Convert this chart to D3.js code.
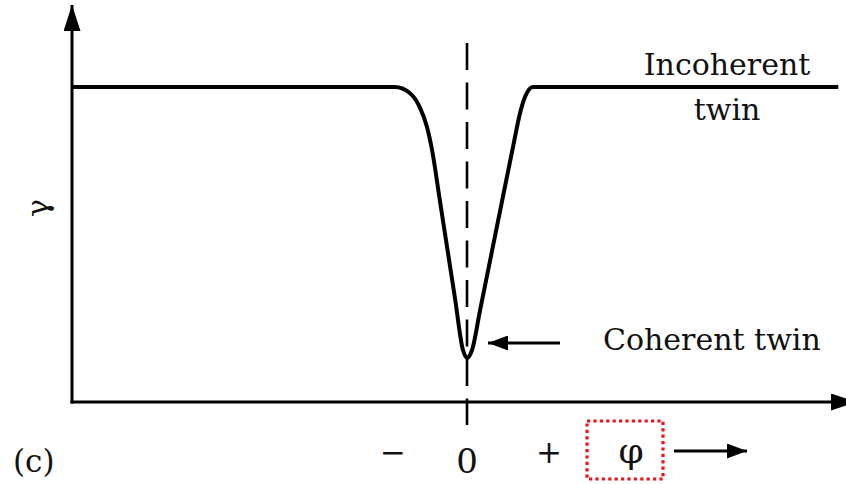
<!DOCTYPE html>
<html>
<head>
<meta charset="utf-8">
<script src="https://cdn.jsdelivr.net/npm/d3@7"></script>
<style>
  body { margin: 0; background: #fff; }
  text { font-family: "DejaVu Serif", "Liberation Serif", serif; fill: #111; }
</style>
</head>
<body>
<svg id="chart" width="846" height="484"></svg>
<script>
// twin boundary energy vs misorientation (phi)
const phiValues   = [-4, -0.73, -0.58, -0.48, -0.405, -0.354, -0.273, -0.122, -0.041, 0, 0.051, 0.132, 0.334, 0.466, 0.537, 0.587, 0.668, 3.76];
const gammaValues = [1, 1, 0.981, 0.937, 0.873, 0.80, 0.636, 0.33, 0.165, 0.14, 0.165, 0.291, 0.605, 0.81, 0.917, 0.968, 1, 1];

// labels under the phi axis
const tickPhi    = [-0.75, 0, 0.83];
const tickLabels = ["\u2212", "0", "+"];

const svg = d3.select("#chart");

const x = d3.scaleLinear().domain([-4, 4]).range([72, 862]);
const y = d3.scaleLinear().domain([0, 1]).range([402, 87]);

// arrow heads
const defs = svg.append("defs");
function arrowHead(id, len, half) {
  defs.append("marker")
    .attr("id", id)
    .attr("markerUnits", "userSpaceOnUse")
    .attr("viewBox", `0 ${-half} ${len} ${half * 2}`)
    .attr("refX", len).attr("refY", 0)
    .attr("markerWidth", len).attr("markerHeight", half * 2)
    .attr("orient", "auto")
    .append("path")
    .attr("d", `M0,${-half}L${len},0L0,${half}Z`)
    .attr("fill", "#000");
}
arrowHead("axisHead", 26, 8.5);
arrowHead("smallHead", 20, 7.5);

// axes
svg.append("line")
  .attr("x1", x(-4)).attr("y1", y(0) + 1.5)
  .attr("x2", x(-4)).attr("y2", 5)
  .attr("stroke", "#000").attr("stroke-width", 3)
  .attr("marker-end", "url(#axisHead)");
svg.append("line")
  .attr("x1", x(-4) - 1.5).attr("y1", y(0))
  .attr("x2", 857).attr("y2", y(0))
  .attr("stroke", "#000").attr("stroke-width", 3)
  .attr("marker-end", "url(#axisHead)");

// dashed centre line at phi = 0
svg.append("line")
  .attr("x1", x(0)).attr("y1", 43)
  .attr("x2", x(0)).attr("y2", y(0))
  .attr("stroke", "#000").attr("stroke-width", 2.6)
  .attr("stroke-dasharray", "27 12.5");
svg.append("line")
  .attr("x1", x(0)).attr("y1", y(0))
  .attr("x2", x(0)).attr("y2", 425)
  .attr("stroke", "#000").attr("stroke-width", 2.6);

// the curve
const pts = phiValues.map((p, i) => [p, gammaValues[i]]);
const line = d3.line()
  .x(d => x(d[0]))
  .y(d => y(d[1]))
  .curve(d3.curveMonotoneX);
svg.append("path")
  .datum(pts)
  .attr("d", line)
  .attr("fill", "none")
  .attr("stroke", "#000")
  .attr("stroke-width", 4)
  .attr("stroke-linejoin", "round");

// y label (gamma, turned)
svg.append("text")
  .attr("transform", "translate(48,208) rotate(-90)")
  .attr("text-anchor", "middle")
  .attr("font-size", 30)
  .text("\u03b3");

// labels on the right
svg.append("text")
  .attr("x", 727).attr("y", 75)
  .attr("text-anchor", "middle")
  .attr("font-size", 30)
  .text("Incoherent");
svg.append("text")
  .attr("x", 727).attr("y", 120)
  .attr("text-anchor", "middle")
  .attr("font-size", 30)
  .text("twin");

svg.append("text")
  .attr("x", 603).attr("y", 350)
  .attr("font-size", 30)
  .text("Coherent twin");
svg.append("line")
  .attr("x1", 560).attr("y1", 343)
  .attr("x2", 488).attr("y2", 343)
  .attr("stroke", "#000").attr("stroke-width", 3)
  .attr("marker-end", "url(#smallHead)");

// bottom labels
svg.selectAll("text.tick")
  .data(tickPhi)
  .enter()
  .append("text")
  .attr("class", "tick")
  .attr("x", d => x(d))
  .attr("y", (d, i) => tickLabels[i] === "0" ? 473 : 463)
  .attr("text-anchor", "middle")
  .attr("font-size", (d, i) => tickLabels[i] === "0" ? 34 : 31)
  .text((d, i) => tickLabels[i]);

// phi with dotted red box
svg.append("rect")
  .attr("x", 587).attr("y", 421)
  .attr("width", 76).attr("height", 58)
  .attr("fill", "none")
  .attr("stroke", "#e8141b").attr("stroke-width", 3.2)
  .attr("stroke-dasharray", "3.2 3.2");
svg.append("text")
  .attr("x", 631).attr("y", 463)
  .attr("text-anchor", "middle")
  .attr("font-size", 36)
  .text("\u03c6");
svg.append("line")
  .attr("x1", 674).attr("y1", 451)
  .attr("x2", 747).attr("y2", 451)
  .attr("stroke", "#000").attr("stroke-width", 3)
  .attr("marker-end", "url(#smallHead)");

svg.append("text")
  .attr("x", 13).attr("y", 472)
  .attr("font-size", 31)
  .text("(c)");
</script>
</body>
</html>
